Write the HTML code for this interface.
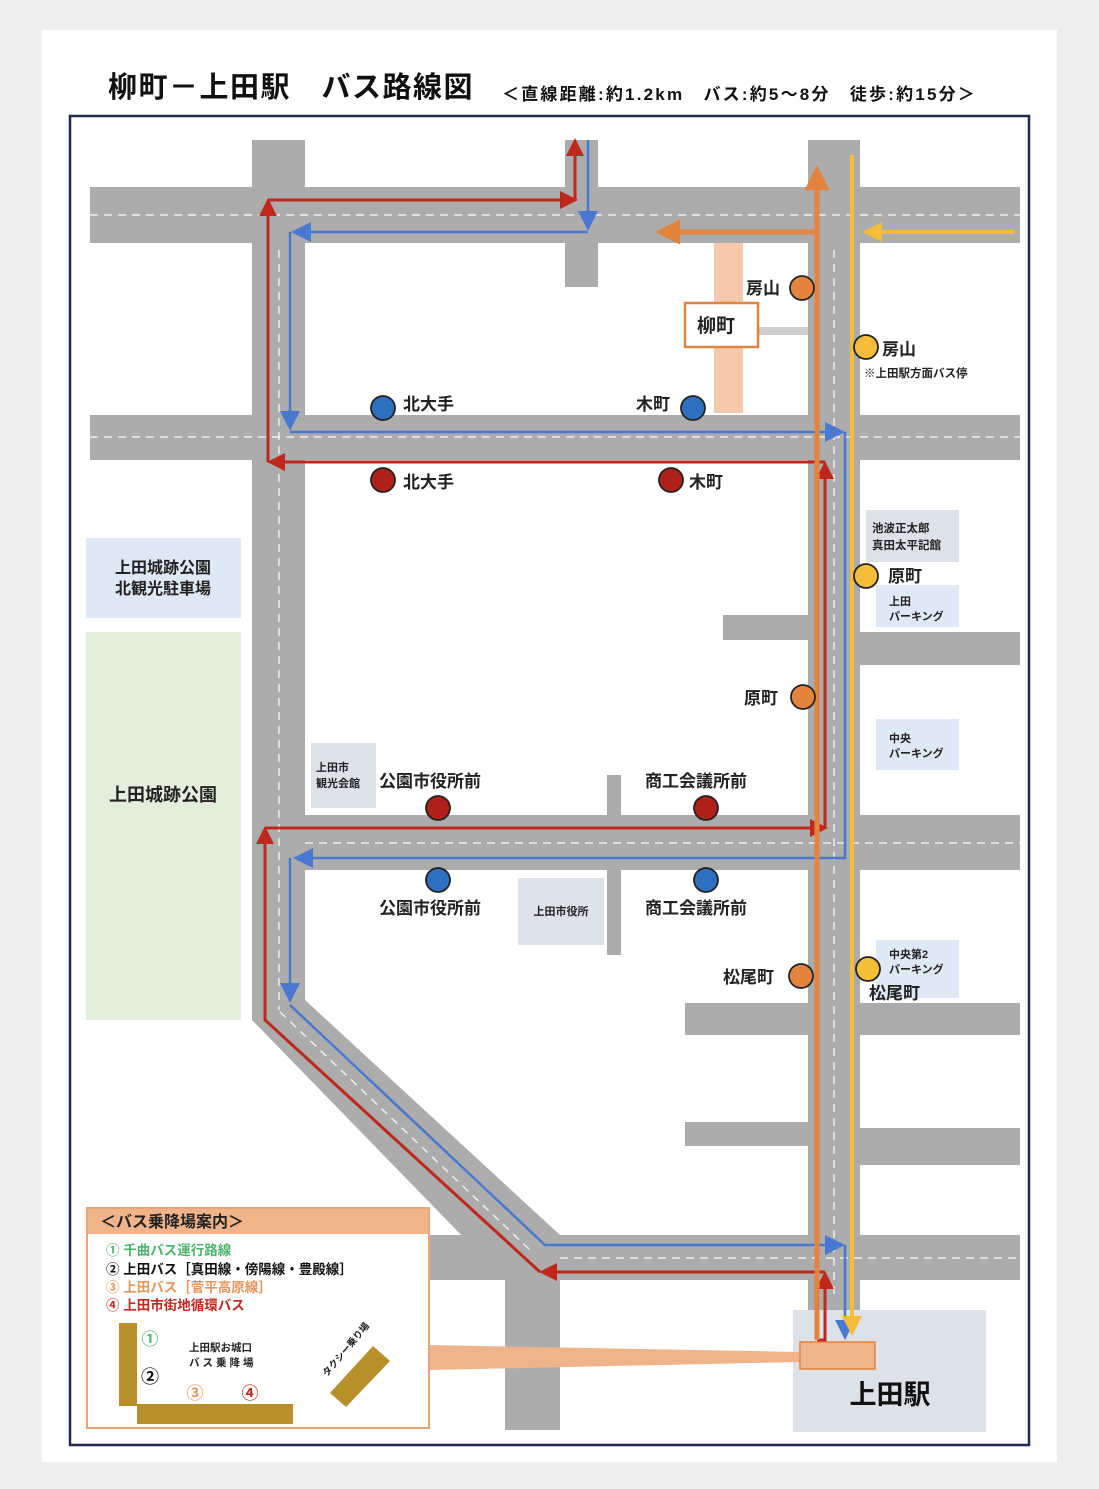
<!DOCTYPE html>
<html><head><meta charset="utf-8"><style>
html,body{margin:0;padding:0;background:#efefef;}
svg{display:block;font-family:"Liberation Sans","Noto Sans CJK JP",sans-serif;font-weight:bold;}
</style></head><body>
<svg width="1099" height="1489" viewBox="0 0 1099 1489" xmlns="http://www.w3.org/2000/svg">
<defs>
<marker id="ar" markerWidth="6" markerHeight="6" refX="4" refY="3" orient="auto" markerUnits="strokeWidth"><path d="M0,0 L6,3 L0,6 z" fill="#c0281e"/></marker>
<marker id="ab" markerWidth="8" markerHeight="8" refX="6" refY="4" orient="auto" markerUnits="strokeWidth"><path d="M0,0 L8,4 L0,8 z" fill="#4a78d0"/></marker>
<marker id="ao" markerWidth="5" markerHeight="5" refX="3" refY="2.5" orient="auto" markerUnits="strokeWidth"><path d="M0,0 L5,2.5 L0,5 z" fill="#e3843e"/></marker>
<marker id="ay" markerWidth="5" markerHeight="5" refX="3" refY="2.5" orient="auto" markerUnits="strokeWidth"><path d="M0,0 L5,2.5 L0,5 z" fill="#f4bd3a"/></marker>
</defs>
<rect x="42" y="30" width="1015" height="1432" fill="#fff"/>
<text x="108" y="97" font-size="29" fill="#111" letter-spacing="1.5">柳町－上田駅　バス路線図</text>
<text x="502" y="100" font-size="17" fill="#111" letter-spacing="2.2">＜直線距離:約1.2km　バス:約5～8分　徒歩:約15分＞</text>
<rect x="70" y="116" width="959" height="1329" fill="none" stroke="#1e2b4f" stroke-width="2.5"/>
<g fill="#acacac">
<rect x="90" y="187" width="930" height="56"/>
<rect x="565" y="140" width="33" height="147"/>
<rect x="252" y="140" width="53" height="880"/>
<polygon points="252,1020 305,1000 560,1235 560,1280 505,1280"/>
<rect x="430" y="1235" width="590" height="45"/>
<rect x="505" y="1235" width="55" height="195"/>
<rect x="808" y="140" width="52" height="1170"/>
<rect x="90" y="415" width="930" height="45"/>
<rect x="723" y="615" width="85" height="25"/>
<rect x="860" y="632" width="160" height="33"/>
<rect x="252" y="815" width="768" height="55"/>
<rect x="607" y="775" width="14" height="180"/>
<rect x="685" y="1003" width="335" height="32"/>
<rect x="685" y="1122" width="123" height="24"/>
<rect x="860" y="1128" width="160" height="37"/>
</g>
<g stroke="#fff" stroke-width="1.5" stroke-dasharray="8 6" fill="none" opacity="0.8">
<line x1="90" y1="215" x2="1020" y2="215"/>
<line x1="90" y1="437" x2="1020" y2="437"/>
<line x1="305" y1="843" x2="1020" y2="843"/>
<line x1="279" y1="250" x2="279" y2="1010"/>
<line x1="834" y1="250" x2="834" y2="1300"/>
<line x1="280" y1="1012" x2="530" y2="1250"/>
<line x1="560" y1="1258" x2="1020" y2="1258"/>
</g>
<rect x="714" y="243" width="29" height="170" fill="#f5c9ac"/>
<rect x="758" y="327" width="50" height="8" fill="#cfcfcf"/>
<rect x="685" y="303" width="73" height="44" fill="#fff" stroke="#e3843e" stroke-width="2.5"/>
<text x="697" y="332" font-size="19" fill="#222">柳町</text>
<rect x="86" y="538" width="155" height="80" fill="#dfe9f5"/>
<text x="163" y="573" font-size="16" fill="#222" text-anchor="middle">上田城跡公園</text>
<text x="163" y="594" font-size="16" fill="#222" text-anchor="middle">北観光駐車場</text>
<rect x="86" y="632" width="155" height="388" fill="#e3eedc"/>
<text x="163" y="801" font-size="18" fill="#222" text-anchor="middle">上田城跡公園</text>
<rect x="311" y="743" width="65" height="65" fill="#dde1e8"/>
<text x="316" y="771" font-size="11" fill="#222">上田市</text>
<text x="316" y="787" font-size="11" fill="#222">観光会館</text>
<rect x="518" y="878" width="86" height="67" fill="#dde1e8"/>
<text x="561" y="915" font-size="11" fill="#222" text-anchor="middle">上田市役所</text>
<rect x="866" y="510" width="93" height="52" fill="#dde1e8"/>
<text x="872" y="532" font-size="11.5" fill="#222">池波正太郎</text>
<text x="872" y="549" font-size="11.5" fill="#222">真田太平記館</text>
<rect x="876" y="585" width="83" height="42" fill="#dfe9f5"/>
<text x="889" y="605" font-size="11" fill="#222">上田</text>
<text x="889" y="620" font-size="11" fill="#222">パーキング</text>
<rect x="876" y="719" width="83" height="51" fill="#dfe9f5"/>
<text x="889" y="742" font-size="11" fill="#222">中央</text>
<text x="889" y="757" font-size="11" fill="#222">パーキング</text>
<rect x="876" y="940" width="83" height="58" fill="#dfe9f5"/>
<text x="889" y="958" font-size="11" fill="#222">中央第2</text>
<text x="889" y="973" font-size="11" fill="#222">パーキング</text>
<rect x="793" y="1310" width="193" height="122" fill="#dde1e8"/>
<text x="890" y="1404" font-size="27" fill="#111" text-anchor="middle">上田駅</text>
<polygon points="430,1345 800,1352 800,1362 430,1370" fill="#f0b48a"/>
<rect x="800" y="1342" width="75" height="27" fill="#f0b48a" stroke="#e3843e" stroke-width="1.5"/>
<g fill="none" stroke-width="3">
<g stroke="#c0281e">
<polyline points="817,1340 825,1340 825,1277" marker-end="url(#ar)"/>
<polyline points="825,1272 545,1272" marker-end="url(#ar)"/>
<polyline points="540,1272 265,1020 265,832" marker-end="url(#ar)"/>
<polyline points="265,828 822,828" marker-end="url(#ar)"/>
<polyline points="825,828 825,467" marker-end="url(#ar)"/>
<polyline points="825,462 273,462" marker-end="url(#ar)"/>
<polyline points="268,462 268,204" marker-end="url(#ar)"/>
<polyline points="268,200 572,200" marker-end="url(#ar)"/>
<polyline points="575,200 575,144" marker-end="url(#ar)"/>
</g>
<g stroke="#4a78d0" stroke-width="2.5">
<polyline points="588,140 588,226" marker-end="url(#ab)"/>
<polyline points="588,232 296,232" marker-end="url(#ab)"/>
<polyline points="290,232 290,426" marker-end="url(#ab)"/>
<polyline points="290,432 840,432" marker-end="url(#ab)"/>
<polyline points="845,432 845,858 298,858" marker-end="url(#ab)"/>
<polyline points="290,858 290,998" marker-end="url(#ab)"/>
<polyline points="290,1005 545,1245 840,1245" marker-end="url(#ab)"/>
<polyline points="845,1245 845,1335" marker-end="url(#ab)"/>
</g>
<g stroke="#e3843e" stroke-width="5">
<polyline points="817,1340 817,175" marker-end="url(#ao)"/>
<polyline points="817,232 665,232" marker-end="url(#ao)"/>
</g>
<g stroke="#f4bd3a" stroke-width="4">
<polyline points="852,155 852,1328" marker-end="url(#ay)"/>
<polyline points="1015,232 870,232" marker-end="url(#ay)"/>
</g>
</g>
<g stroke="#222" stroke-width="1.8">
<circle cx="802" cy="288" r="12" fill="#e3843e"/>
<circle cx="866" cy="347" r="12" fill="#f4bd3a"/>
<circle cx="383" cy="408" r="12" fill="#2f6fc0"/>
<circle cx="693" cy="408" r="12" fill="#2f6fc0"/>
<circle cx="383" cy="480" r="12" fill="#b02018"/>
<circle cx="671" cy="480" r="12" fill="#b02018"/>
<circle cx="866" cy="576" r="12" fill="#f4bd3a"/>
<circle cx="803" cy="697" r="12" fill="#e3843e"/>
<circle cx="438" cy="808" r="12" fill="#b02018"/>
<circle cx="706" cy="808" r="12" fill="#b02018"/>
<circle cx="438" cy="880" r="12" fill="#2f6fc0"/>
<circle cx="706" cy="880" r="12" fill="#2f6fc0"/>
<circle cx="801" cy="976" r="12" fill="#e3843e"/>
<circle cx="868" cy="969" r="12" fill="#f4bd3a"/>
</g>
<g font-size="17" fill="#222">
<text x="746" y="294">房山</text>
<text x="882" y="355">房山</text>
<text x="864" y="377" font-size="11.5">※上田駅方面バス停</text>
<text x="403" y="410">北大手</text>
<text x="636" y="410">木町</text>
<text x="403" y="488">北大手</text>
<text x="689" y="488">木町</text>
<text x="888" y="582">原町</text>
<text x="744" y="704">原町</text>
<text x="379" y="787">公園市役所前</text>
<text x="645" y="787">商工会議所前</text>
<text x="379" y="914">公園市役所前</text>
<text x="645" y="914">商工会議所前</text>
<text x="723" y="983">松尾町</text>
<text x="869" y="999">松尾町</text>
</g>
<rect x="87" y="1208" width="342" height="220" fill="#fff" stroke="#e8a577" stroke-width="2"/>
<rect x="88" y="1209" width="340" height="25" fill="#f0b48a"/>
<text x="100" y="1227" font-size="16" fill="#222">＜バス乗降場案内＞</text>
<g font-size="13.5">
<text x="106" y="1255" fill="#4bb56a">①  千曲バス運行路線</text>
<text x="106" y="1274" fill="#111">②  上田バス［真田線・傍陽線・豊殿線］</text>
<text x="106" y="1292" fill="#e8955b">③  上田バス［菅平高原線］</text>
<text x="106" y="1310" fill="#c0281e">④  上田市街地循環バス</text>
</g>
<rect x="119" y="1323" width="18" height="83" fill="#b8902a"/>
<rect x="137" y="1404" width="156" height="20" fill="#b8902a"/>
<polygon points="330,1393 346,1407 390,1361 373,1346" fill="#b8902a"/>
<text x="150" y="1345" font-size="17" fill="#4bb56a" text-anchor="middle">①</text>
<text x="150" y="1383" font-size="18" fill="#111" text-anchor="middle">②</text>
<text x="195" y="1399" font-size="17" fill="#e8955b" text-anchor="middle">③</text>
<text x="250" y="1399" font-size="17" fill="#c0281e" text-anchor="middle">④</text>
<text x="189" y="1351" font-size="10.5" fill="#222">上田駅お城口</text>
<text x="189" y="1366" font-size="10.5" fill="#222" letter-spacing="3">バス乗降場</text>
<text x="0" y="0" font-size="9.5" fill="#222" transform="translate(327,1377) rotate(-50)">タクシー乗り場</text>
</svg>
</body></html>
